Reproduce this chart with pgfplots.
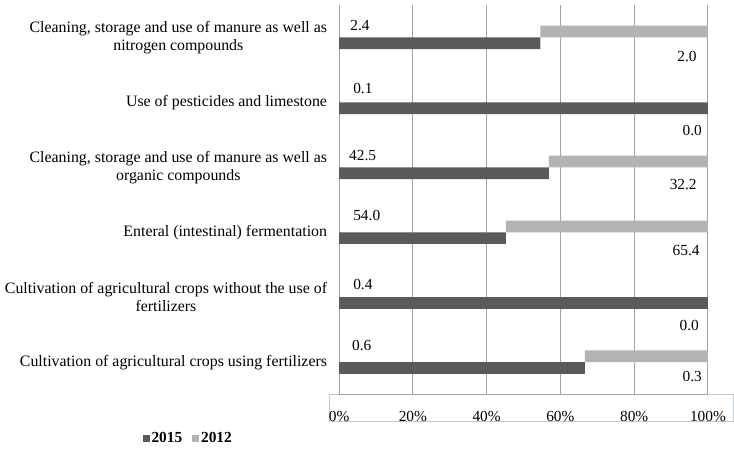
\documentclass[border=0pt]{standalone}
\usepackage{fontspec}
\setmainfont{Liberation Serif}
\usepackage{pgfplots}
\pgfplotsset{compat=1.18}
\usepackage{pgfplotstable}
\definecolor{darkbar}{HTML}{5A5A5A}
\definecolor{lightbar}{HTML}{B3B3B3}
\definecolor{gridc}{HTML}{A3A3A3}
\definecolor{selc}{HTML}{BCCBDC}
\tikzset{lbl/.style={font=\fontsize{15.5}{17}\selectfont, inner sep=0pt}}

% share of 2015 and 2012 in the sum of both years (percent)
\pgfplotstableread{
yd    yl    p15     p12
1.09  0.91  54.545  45.455
2.09  1.91  100.0   0.0
3.09  2.91  56.894  43.106
4.09  3.91  45.226  54.774
5.09  4.91  100.0   0.0
6.09  5.91  66.667  33.333
}\shares

\begin{document}
\begin{tikzpicture}[x=1pt,y=1pt]
\path (0,0) rectangle (734,450);
\draw[selc, line width=0.6pt] (332,25) rectangle (740,52);
\begin{axis}[
  at={(342pt,52pt)}, anchor=south west,
  scale only axis, width=372pt, height=393pt,
  xbar stacked, bar width=0.18,
  xmin=0, xmax=100, ymin=0.5, ymax=6.5, y dir=reverse,
  enlargelimits=false,
  axis lines*=left,
  axis line style={gridc, line width=0.9pt},
  xmajorgrids, grid style={gridc, line width=0.9pt},
  major tick length=0pt,
  xtick={0,20,40,60,80,100},
  xticklabels={0\%,20\%,40\%,60\%,80\%,100\%},
  xticklabel style={font=\fontsize{15.5}{17}\selectfont, yshift=-13pt},
  ytick={1,2,3,4,5,6},
  yticklabels={
    {Cleaning, storage and use of manure as well as\\nitrogen compounds},
    {Use of pesticides and limestone},
    {Cleaning, storage and use of manure as well as\\organic compounds},
    {Enteral (intestinal) fermentation},
    {Cultivation of agricultural crops without the use of\\fertilizers},
    {Cultivation of agricultural crops using fertilizers}},
  yticklabel style={font=\fontsize{16}{18}\selectfont, align=center, inner xsep=0pt, xshift=-12pt},
  legend style={draw=none, fill=none, font=\fontsize{15.5}{17}\selectfont\bfseries,
    at={(-0.409,-0.112)}, anchor=center, legend columns=2,
    /tikz/every even column/.append style={column sep=8pt},
    /tikz/every odd column/.append style={column sep=0pt}},
  legend image code/.code={\fill[#1] (0pt,-4pt) rectangle (7pt,3pt);},
  clip=false,
]
\addplot[fill=darkbar, draw=none] table[x=p15, y=yd] {\shares};
\addlegendentry{2015}
\addplot[fill=lightbar, draw=none] table[x=p12, y=yl] {\shares};
\addlegendentry{2012}

\node[lbl, anchor=west] at (axis cs:3.0,0.824) {2.4};
\node[lbl, anchor=west] at (axis cs:3.8,1.792) {0.1};
\node[lbl, anchor=west] at (axis cs:2.7,2.817) {42.5};
\node[lbl, anchor=west] at (axis cs:3.8,3.745) {54.0};
\node[lbl, anchor=west] at (axis cs:3.8,4.802) {0.4};
\node[lbl, anchor=west] at (axis cs:3.5,5.748) {0.6};
\node[lbl, anchor=east] at (axis cs:97.0,1.29) {2.0};
\node[lbl, anchor=east] at (axis cs:98.4,2.434) {0.0};
\node[lbl, anchor=east] at (axis cs:97.0,3.261) {32.2};
\node[lbl, anchor=east] at (axis cs:97.8,4.278) {65.4};
\node[lbl, anchor=east] at (axis cs:97.6,5.443) {0.0};
\node[lbl, anchor=east] at (axis cs:98.4,6.226) {0.3};
\end{axis}
\end{tikzpicture}
\end{document}
